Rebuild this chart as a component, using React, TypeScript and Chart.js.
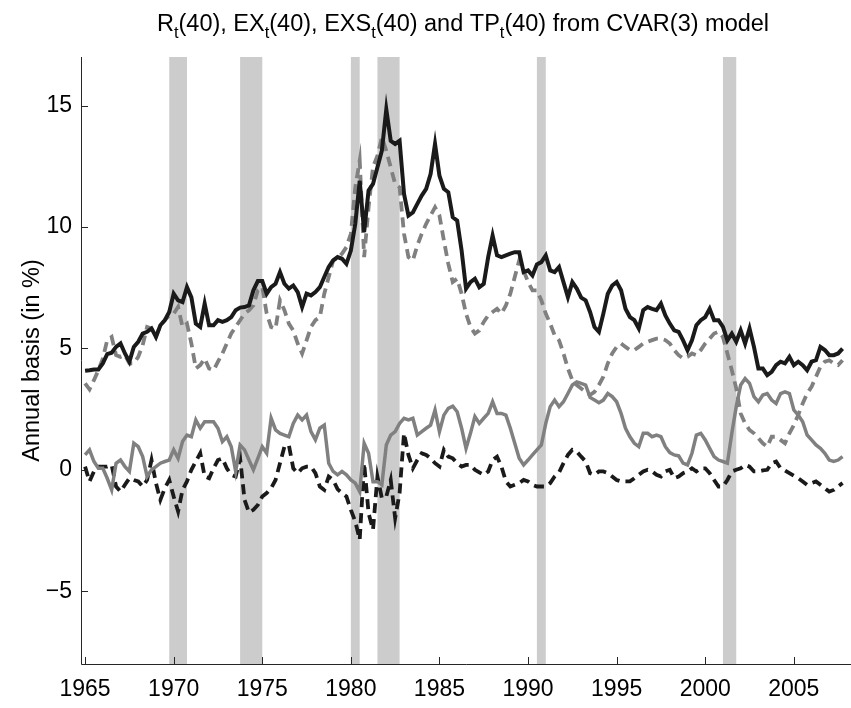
import React, { useEffect, useRef } from "react";
import { Chart, registerables } from "chart.js";

Chart.register(...registerables);

// Quarterly data, first observation 1965Q1
const startYear = 1965;
const quartersPerYear = 4;

// R_t(40) – black solid
const R = [
  4.08, 4.10, 4.13, 4.13, 4.38, 4.76, 4.82, 5.06, 5.20, 4.79, 4.45, 5.06, 5.27, 5.61, 5.68, 5.82, 5.47, 5.95, 6.16, 6.50,
  7.25, 6.98, 6.91, 7.52, 7.10, 6.02, 5.88, 6.84, 5.95, 5.95, 6.16, 6.09, 6.16, 6.29, 6.57, 6.68, 6.70, 6.77, 7.39, 7.77,
  7.77, 7.25, 7.52, 7.66, 8.14, 7.66, 7.46, 7.59, 7.32, 6.70, 7.25, 7.18, 7.32, 7.52, 7.94, 8.35,
  8.62, 8.76, 8.69, 8.48, 9.03, 10.13, 11.90, 9.79, 11.50, 11.77, 12.46, 13.14, 14.85, 13.55, 13.42, 13.55, 11.36, 10.47, 10.60, 10.95, 11.29, 11.57, 12.18, 13.42,
  12.11, 11.57, 11.43, 10.40, 10.26, 9.03, 7.46, 7.73, 7.87, 7.52, 7.66, 8.76, 9.65, 8.83, 8.76, 8.83, 8.90, 8.96, 8.96, 8.14, 8.21, 8.00, 8.46, 8.55, 8.83, 8.21, 8.14, 8.35, 7.73, 7.11, 7.73, 7.46, 7.09, 6.98,
  6.50, 5.88, 5.68, 6.43, 7.25, 7.59, 7.73, 7.39, 6.63, 6.29, 6.16, 5.82, 6.57, 6.70, 6.63, 6.57, 6.84, 6.36, 6.02, 5.74, 5.68, 5.33, 4.92, 5.33, 5.95, 6.16, 6.29, 6.63, 6.16, 6.16, 5.88, 5.33, 5.61, 5.27, 5.74, 5.20, 5.82, 5.06,
  4.17, 4.17, 3.90, 4.03, 4.31, 4.45, 4.38, 4.65, 4.31, 4.45, 4.31, 4.10, 4.45, 4.51, 5.06, 4.93, 4.72, 4.72, 4.79, 4.99,
];

// EX_t(40) – grey dashed
const EX = [
  3.56, 3.31, 3.69, 4.10, 4.58, 5.34, 5.47, 4.72, 4.65, 4.72, 4.38, 4.38, 4.65, 5.13, 5.88, 5.82, 5.47, 5.95, 6.16, 6.36,
  6.43, 6.71, 5.88, 6.02, 5.20, 4.17, 4.31, 4.58, 4.17, 4.10, 4.45, 4.79, 5.20, 5.61, 5.88, 6.16, 6.43, 6.57, 6.77, 7.39,
  7.53, 6.43, 5.88, 5.81, 6.98, 6.57, 6.02, 5.74, 5.20, 4.79, 5.33, 5.88, 6.16, 6.29, 7.25, 7.94,
  8.62, 8.73, 8.90, 9.17, 9.72, 11.63, 12.73, 8.76, 10.81, 12.46, 12.94, 13.69, 13.14, 12.46, 11.77, 11.63, 9.72, 8.76, 8.62, 9.24, 9.72, 10.13, 10.47, 10.81,
  10.47, 9.44, 8.48, 7.73, 7.87, 7.25, 6.43, 5.88, 5.61, 5.74, 6.09, 6.36, 6.50, 6.63, 6.43, 6.77, 7.25, 7.94, 8.62, 8.21, 7.73, 7.39, 7.39, 6.98, 6.43, 6.02, 5.54, 5.33, 4.79, 4.17, 3.69, 3.49, 3.35, 3.21,
  3.08, 3.21, 3.49, 3.83, 4.38, 4.79, 5.06, 5.20, 5.06, 4.93, 4.93, 5.06, 5.20, 5.27, 5.34, 5.40, 5.40, 5.34, 5.20, 4.93, 4.72, 4.58, 4.65, 4.79, 4.72, 4.93, 5.20, 5.40, 5.61, 5.68, 5.47, 4.79, 4.10, 3.35, 2.32, 1.91, 1.64, 1.50,
  1.30, 1.09, 0.95, 1.36, 1.36, 1.23, 1.09, 1.50, 1.84, 2.26, 2.73, 3.14, 3.42, 3.83, 4.24, 4.45, 4.51, 4.38, 4.31, 4.51,
];

// TP_t(40) – grey solid
const TP = [
  0.61, 0.82, 0.34, 0.06, 0.06, -0.35, -0.83, 0.27, 0.40, 0.13, -0.07, 1.09, 0.95, 0.54, -0.28, 0.00, 0.13, 0.27, 0.34, 0.40,
  0.82, 0.47, 1.16, 1.43, 1.36, 2.05, 1.71, 1.98, 1.98, 1.98, 1.71, 1.16, 1.36, 0.95, -0.07, 1.02, 0.82, 0.40, 0.00, 0.47,
  0.95, 0.68, 2.12, 1.64, 1.50, 1.43, 1.36, 1.91, 2.25, 2.05, 2.25, 1.57, 1.23, 1.71, 1.84, 0.27,
  -0.07, -0.21, -0.07, -0.21, -0.42, -0.55, -0.90, 1.09, 0.68, -0.49, -0.49, -0.62, 1.02, 1.43, 1.57, 1.91, 2.12, 2.05, 2.12, 1.43, 1.57, 1.71, 1.84, 2.46,
  1.57, 2.25, 2.53, 2.62, 2.39, 1.71, 0.88, 1.50, 2.19, 1.91, 2.12, 2.32, 2.80, 2.32, 2.32, 2.25, 1.71, 1.09, 0.47, 0.20, 0.40, 0.61, 0.82, 1.02, 1.91, 2.60, 2.87, 2.60, 2.80, 3.14, 3.49, 3.62, 3.56, 3.49,
  2.98, 2.87, 2.76, 2.87, 3.14, 3.01, 2.80, 2.32, 1.71, 1.36, 1.09, 0.95, 1.50, 1.50, 1.36, 1.43, 1.36, 0.95, 0.71, 0.61, 0.57, 0.27, 0.20, 0.68, 1.43, 1.50, 1.23, 0.88, 0.54, 0.40, 0.34, 0.27, 1.50, 2.60, 3.49, 3.76, 3.56, 3.01,
  2.80, 3.08, 3.14, 2.87, 2.73, 3.14, 3.21, 3.14, 2.46, 2.25, 1.98, 1.43, 1.23, 1.02, 0.88, 0.68, 0.40, 0.34, 0.40, 0.54,
];

// EXS_t(40) – black dashed
const EXS = [
  0.13, -0.48, -0.07, 0.13, 0.13, 0.13, 0.20, -0.69, -0.90, -0.62, -0.35, -0.42, -0.48, -0.69, -0.42, 0.40, -0.55, -1.24, -0.76, -0.42,
  -1.10, -1.72, -0.83, -0.48, 0.00, 0.34, 0.68, -0.28, -0.35, 0.06, 0.40, 0.47, 0.06, -0.21, -0.28, 0.47, -1.24, -1.76, -1.65, -1.45,
  -1.10, -0.96, -0.76, -0.42, 0.27, 0.95, 1.02, 0.06, -0.14, 0.06, 0.13, 0.13, -0.14, -0.69, -0.83, -0.28,
  -0.42, -0.80, -0.96, -1.10, -1.65, -2.13, -2.88, 0.27, -1.79, -2.47, -0.28, -1.17, -1.10, -0.42, -1.99, -0.96, 1.50, 0.61, 0.06, 0.40, 0.68, 0.61, 0.47, 0.27,
  0.13, 0.82, 0.54, 0.47, 0.27, 0.13, 0.20, 0.20, 0.00, -0.11, -0.21, -0.07, 0.40, 0.54, 0.13, -0.48, -0.69, -0.62, -0.55, -0.42, -0.48, -0.62, -0.69, -0.69, -0.69, -0.55, -0.28, -0.11, 0.27, 0.61, 0.82, 0.75, 0.54, 0.34,
  -0.14, -0.21, -0.07, -0.07, -0.14, -0.28, -0.42, -0.48, -0.48, -0.48, -0.35, -0.21, -0.07, 0.00, -0.07, -0.21, -0.28, -0.07, 0.00, -0.35, -0.28, -0.14, -0.07, 0.06, -0.07, 0.06, 0.06, -0.14, -0.42, -0.69, -0.69, -0.42, -0.07, 0.00, 0.06, 0.20, 0.13, -0.07,
  -0.07, -0.03, 0.00, 0.27, 0.34, 0.06, -0.03, -0.14, -0.25, -0.35, -0.48, -0.62, -0.55, -0.48, -0.62, -0.76, -0.90, -0.83, -0.69, -0.55,
];

// NBER recessions (quarter boundaries)
const recStart = [1969.75, 1973.75, 1980.0, 1981.5, 1990.5, 2001.0];
const recEnd = [1970.75, 1975.0, 1980.5, 1982.75, 1991.0, 2001.75];

const xTicks = [1965, 1970, 1975, 1980, 1985, 1990, 1995, 2000, 2005];
const yTicks = [-5, 0, 5, 10, 15];

const titleParts: [string, boolean][] = [
  ["R", false], ["t", true], ["(40), EX", false], ["t", true], ["(40), EXS", false], ["t", true],
  ["(40) and TP", false], ["t", true], ["(40) from CVAR(3) model", false],
];
const yLabel = "Annual basis (in %)";

const FONT = '"Liberation Sans", Arial, Helvetica, sans-serif';
const BLACK = "#1a1a1a";
const GREY = "#808080";
const SHADE = "#cccccc";

const recessionPlugin = {
  id: "recessions",
  beforeDatasetsDraw(chart: any) {
    const { ctx, chartArea, scales } = chart;
    ctx.save();
    ctx.fillStyle = SHADE;
    for (let i = 0; i < recStart.length; i++) {
      const x0 = scales.x.getPixelForValue(recStart[i]);
      const x1 = scales.x.getPixelForValue(recEnd[i]);
      ctx.fillRect(x0, chartArea.top, x1 - x0, chartArea.bottom - chartArea.top);
    }
    ctx.restore();
  },
};

const decorPlugin = {
  id: "decor",
  afterDraw(chart: any) {
    const { ctx, chartArea, scales } = chart;
    const { left, right, top, bottom } = chartArea;
    ctx.save();
    // axes lines
    ctx.strokeStyle = "#262626";
    ctx.lineWidth = 1;
    ctx.beginPath();
    ctx.moveTo(Math.round(left) + 0.5, top);
    ctx.lineTo(Math.round(left) + 0.5, Math.round(bottom) + 0.5);
    ctx.lineTo(right + 1, Math.round(bottom) + 0.5);
    ctx.stroke();
    // inward tick marks
    ctx.beginPath();
    for (const v of xTicks) {
      const x = Math.round(scales.x.getPixelForValue(v)) + 0.5;
      ctx.moveTo(x, bottom);
      ctx.lineTo(x, bottom - 7);
    }
    for (const v of yTicks) {
      const y = Math.round(scales.y.getPixelForValue(v)) + 0.5;
      ctx.moveTo(left, y);
      ctx.lineTo(left + 7, y);
    }
    ctx.stroke();

    // title with subscripts
    ctx.fillStyle = "#000";
    ctx.textBaseline = "alphabetic";
    ctx.textAlign = "left";
    const mainFont = `23.5px ${FONT}`;
    const subFont = `16.5px ${FONT}`;
    let total = 0;
    for (const [t, sub] of titleParts) {
      ctx.font = sub ? subFont : mainFont;
      total += ctx.measureText(t).width;
    }
    let x = 463 - total / 2;
    const base = 31;
    for (const [t, sub] of titleParts) {
      ctx.font = sub ? subFont : mainFont;
      ctx.fillText(t, x, sub ? base + 7 : base);
      x += ctx.measureText(t).width;
    }

    // y-axis label
    ctx.font = `23.5px ${FONT}`;
    ctx.textAlign = "center";
    ctx.textBaseline = "middle";
    ctx.translate(33, (top + bottom) / 2);
    ctx.rotate(-Math.PI / 2);
    ctx.fillText(yLabel, 0, 0);
    ctx.restore();
  },
};

export default function App() {
  const ref = useRef<HTMLCanvasElement>(null);
  useEffect(() => {
    const canvas = ref.current;
    if (!canvas) return;
    const toPts = (arr: number[]) => arr.map((v, i) => ({ x: startYear + i / quartersPerYear, y: v }));
    const common = { pointRadius: 0, fill: false, tension: 0, borderCapStyle: "butt" as const };
    const chart = new Chart(canvas, {
      type: "line",
      data: {
        datasets: [
          { label: "R", data: toPts(R), borderColor: BLACK, borderWidth: 4, ...common },
          { label: "EX", data: toPts(EX), borderColor: GREY, borderWidth: 3.8, borderDash: [10, 6], ...common },
          { label: "TP", data: toPts(TP), borderColor: GREY, borderWidth: 3.5, ...common },
          { label: "EXS", data: toPts(EXS), borderColor: BLACK, borderWidth: 3.8, borderDash: [10, 6], ...common },
        ],
      },
      options: {
        responsive: false,
        animation: false,
        events: [],
        layout: { padding: { top: 57, right: 1, left: 0, bottom: 0 } },
        plugins: { legend: { display: false }, title: { display: false }, tooltip: { enabled: false } },
        scales: {
          x: {
            type: "linear",
            min: 1964.77,
            max: 2008.17,
            grid: { display: false, drawTicks: false },
            border: { display: false },
            ticks: {
              color: "#000",
              font: { family: FONT, size: 23 },
              padding: 12,
              maxRotation: 0,
              autoSkip: false,
              callback: (v: any) => String(v),
            },
            afterBuildTicks: (s: any) => {
              s.ticks = xTicks.map((v) => ({ value: v }));
            },
            afterFit: (s: any) => {
              s.height = 44;
            },
          },
          y: {
            type: "linear",
            min: -8,
            max: 17,
            grid: { display: false, drawTicks: false },
            border: { display: false },
            ticks: {
              color: "#000",
              font: { family: FONT, size: 23 },
              padding: 9,
              autoSkip: false,
              callback: (v: any) => (v < 0 ? "\u2212" + Math.abs(v) : String(v)),
            },
            afterBuildTicks: (s: any) => {
              s.ticks = yTicks.map((v) => ({ value: v }));
            },
            afterFit: (s: any) => {
              s.width = 81;
            },
          },
        },
      },
      plugins: [recessionPlugin, decorPlugin],
    });
    return () => chart.destroy();
  }, []);
  return (
    <div style={{ position: "fixed", left: 0, top: 0, width: 851, height: 708, background: "#fff" }}>
      <canvas ref={ref} width={851} height={708} style={{ display: "block" }} />
    </div>
  );
}
